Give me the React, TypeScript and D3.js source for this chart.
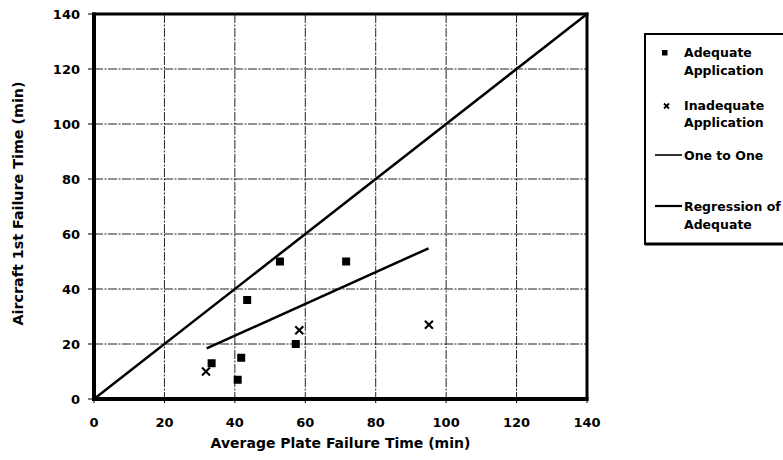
import React from "react";
import * as d3 from "d3";

const xTicks = [0, 20, 40, 60, 80, 100, 120, 140];
const yTicks = [0, 20, 40, 60, 80, 100, 120, 140];

const adequateX = [33.4, 40.8, 41.8, 43.5, 52.8, 57.3, 71.6];
const adequateY = [13, 7, 15, 36, 50, 20, 50];

const inadequateX = [31.8, 58.3, 95.1];
const inadequateY = [10, 25, 27];

const oneToOneX = [0, 140];
const oneToOneY = [0, 140];

const regressionX = [32, 95];
const regressionY = [18.4, 54.8];

const xTitle = "Average Plate Failure Time (min)";
const yTitle = "Aircraft 1st Failure Time (min)";
const legendLabels = [
  ["Adequate", "Application"],
  ["Inadequate", "Application"],
  ["One to One"],
  ["Regression of", "Adequate"],
];

const FONT = "'DejaVu Sans', sans-serif";

export default function App() {
  const W = 783;
  const H = 460;
  const left = 94, right = 587, top = 14, bottom = 399;
  const x = d3.scaleLinear().domain([0, 140]).range([left, right]);
  const y = d3.scaleLinear().domain([0, 140]).range([bottom, top]);
  const line = d3
    .line<[number, number]>()
    .x((d) => x(d[0]))
    .y((d) => y(d[1]));

  const oneToOne = oneToOneX.map((v, i) => [v, oneToOneY[i]] as [number, number]);
  const regression = regressionX.map((v, i) => [v, regressionY[i]] as [number, number]);

  const sq = 8;
  const xs = 4;

  return (
    <svg
      width={W}
      height={H}
      style={{ position: "absolute", left: 0, top: 0, background: "#fff" }}
      fontFamily={FONT}
      fontWeight="bold"
    >
      <rect x={0} y={0} width={W} height={H} fill="#fff" />
      {/* grid */}
      <g stroke="#222" strokeWidth={1} strokeDasharray="9,1.5,2,1.5">
        {xTicks.slice(1, -1).map((t) => (
          <line key={"gx" + t} x1={x(t)} x2={x(t)} y1={top} y2={bottom} />
        ))}
        {yTicks.slice(1, -1).map((t) => (
          <line key={"gy" + t} x1={left} x2={right} y1={y(t)} y2={y(t)} />
        ))}
      </g>
      {/* ticks */}
      <g stroke="#000" strokeWidth={1}>
        {yTicks.map((t) => (
          <line key={"ty" + t} x1={left - 6} x2={left} y1={y(t)} y2={y(t)} />
        ))}
        {xTicks.map((t) => (
          <line key={"tx" + t} x1={x(t)} x2={x(t)} y1={bottom} y2={bottom + 4} />
        ))}
      </g>
      {/* frame */}
      <g stroke="#000" fill="none">
        <line x1={left} x2={left} y1={top - 1.5} y2={bottom + 2} strokeWidth={4} />
        <line x1={left - 2} x2={right + 1.5} y1={bottom} y2={bottom} strokeWidth={4} />
        <line x1={left - 2} x2={right + 1.5} y1={top} y2={top} strokeWidth={3} />
        <line x1={right} x2={right} y1={top - 1.5} y2={bottom + 2} strokeWidth={3} />
      </g>
      {/* tick labels */}
      <g fontSize={13} fill="#000">
        {yTicks.map((t) => (
          <text key={"ly" + t} x={80} y={y(t) + 4.5} textAnchor="end">
            {t}
          </text>
        ))}
        {xTicks.map((t) => (
          <text key={"lx" + t} x={x(t)} y={427} textAnchor="middle">
            {t}
          </text>
        ))}
      </g>
      {/* axis titles */}
      <text x={(left + right) / 2} y={448} fontSize={14} textAnchor="middle">
        {xTitle}
      </text>
      <text
        transform={`translate(23,${(top + bottom) / 2 - 3}) rotate(-90)`}
        fontSize={14.3}
        textAnchor="middle"
      >
        {yTitle}
      </text>
      {/* lines */}
      <path d={line(oneToOne) || ""} stroke="#000" strokeWidth={2.5} fill="none" />
      <path d={line(regression) || ""} stroke="#000" strokeWidth={2.5} fill="none" />
      {/* adequate points */}
      {adequateX.map((v, i) => (
        <rect
          key={"a" + i}
          x={x(v) - sq / 2}
          y={y(adequateY[i]) - sq / 2}
          width={sq}
          height={sq}
          fill="#000"
        />
      ))}
      {/* inadequate points */}
      {inadequateX.map((v, i) => {
        const cx = x(v);
        const cy = y(inadequateY[i]);
        return (
          <g key={"i" + i} stroke="#000" strokeWidth={2}>
            <line x1={cx - xs} x2={cx + xs} y1={cy - xs} y2={cy + xs} />
            <line x1={cx - xs} x2={cx + xs} y1={cy + xs} y2={cy - xs} />
          </g>
        );
      })}
      {/* legend */}
      <rect x={645} y={34} width={160} height={210} fill="#fff" stroke="#000" strokeWidth={2} />
      <line x1={645} x2={790} y1={244} y2={244} stroke="#000" strokeWidth={3} />
      <g fontSize={12.5} fill="#000">
        <rect x={662} y={50} width={5.5} height={5.5} fill="#000" />
        <text x={684} y={57}>{legendLabels[0][0]}</text>
        <text x={684} y={75}>{legendLabels[0][1]}</text>
        <g stroke="#000" strokeWidth={1.8}>
          <line x1={664} x2={669} y1={103.5} y2={108.5} />
          <line x1={664} x2={669} y1={108.5} y2={103.5} />
        </g>
        <text x={684} y={110}>{legendLabels[1][0]}</text>
        <text x={684} y={127}>{legendLabels[1][1]}</text>
        <line x1={655} x2={682} y1={155} y2={155} stroke="#000" strokeWidth={1.6} />
        <text x={684} y={159.5}>{legendLabels[2][0]}</text>
        <line x1={655} x2={682} y1={206} y2={206} stroke="#000" strokeWidth={2.2} />
        <text x={684} y={211}>{legendLabels[3][0]}</text>
        <text x={684} y={229}>{legendLabels[3][1]}</text>
      </g>
    </svg>
  );
}
